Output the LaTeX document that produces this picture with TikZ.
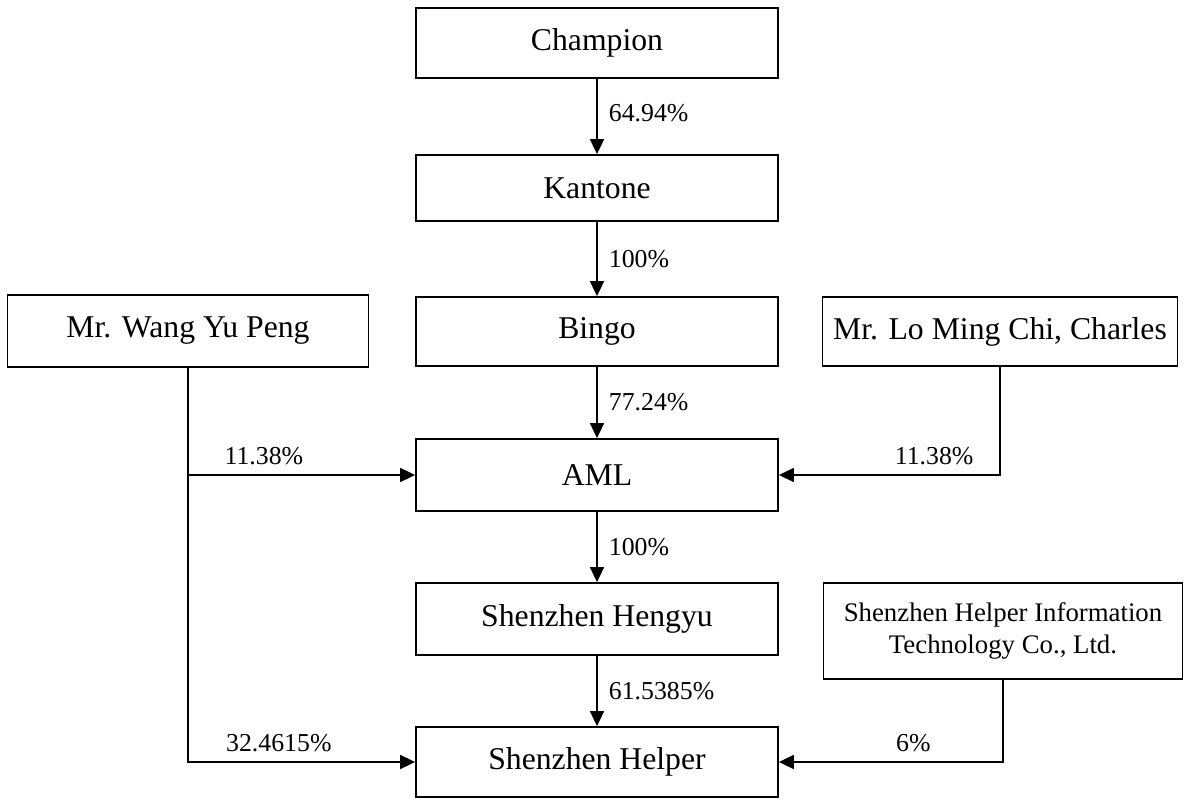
\documentclass[tikz,border=0pt]{standalone}
\usepackage{fontspec}
\setmainfont{Liberation Serif}
\usetikzlibrary{arrows.meta}
\begin{document}
\begin{tikzpicture}[x=1pt,y=-1pt,
  box/.style={draw,line width=1.8pt,inner sep=0pt,align=center,font=\fontsize{31.7}{36}\selectfont},
  smallbox/.style={box,font=\fontsize{26.8}{32}\selectfont},
  link/.style={line width=1.8pt,-{Triangle[length=15pt,width=14pt]}},
  lbl/.style={font=\fontsize{25.8}{30}\selectfont,inner sep=0pt}]
\useasboundingbox (0,0) rectangle (1184,799);
\node[box,minimum width=362pt,minimum height=70pt] (champ) at (597,43) {Champion};
\node[box,minimum width=362pt,minimum height=66pt] (kant) at (597,188) {Kantone};
\node[box,minimum width=362pt,minimum height=69pt] (bingo) at (597,331.5) {Bingo};
\node[box,minimum width=362pt,minimum height=72pt] (aml) at (597,475) {AML};
\node[box,minimum width=362pt,minimum height=72pt] (heng) at (597,619) {Shenzhen Hengyu};
\node[box,minimum width=362pt,minimum height=70pt] (helper) at (597,762) {Shenzhen Helper};
\node[box,minimum width=361pt,minimum height=72pt] (wang) at (188,331) {Mr. Wang Yu Peng};
\node[box,minimum width=355pt,minimum height=69pt] (lo) at (1000,331.5) {Mr. Lo Ming Chi, Charles};
\node[smallbox,minimum width=359pt,minimum height=96pt] (shi) at (1003,631) {Shenzhen Helper Information\\Technology Co., Ltd.};
\draw[link] (champ) -- node[lbl,right=11pt,pos=0.45] (l1) {64.94\%} (kant);
\draw[link] (kant) -- node[lbl,right=11pt,midway] (l2) {100\%} (bingo);
\draw[link] (bingo) -- node[lbl,right=11pt,midway] (l3) {77.24\%} (aml);
\draw[link] (aml) -- node[lbl,right=11pt,midway] (l4) {100\%} (heng);
\draw[link] (heng) -- node[lbl,right=11pt,midway] (l5) {61.5385\%} (helper);
\draw[link] (wang.south) |- node[lbl,above=9pt,pos=0.667] (l6) {11.38\%} (aml.west);
\draw[link] (wang.south) |- node[lbl,above=9pt,pos=0.70] (l7) {32.4615\%} (helper.west);
\draw[link] (lo.south) |- node[lbl,above=9pt,pos=0.649] (l8) {11.38\%} (aml.east);
\draw[link] (shi.south) |- node[lbl,above=9pt,pos=0.70] (l9) {6\%} (helper.east);
\end{tikzpicture}
\end{document}
